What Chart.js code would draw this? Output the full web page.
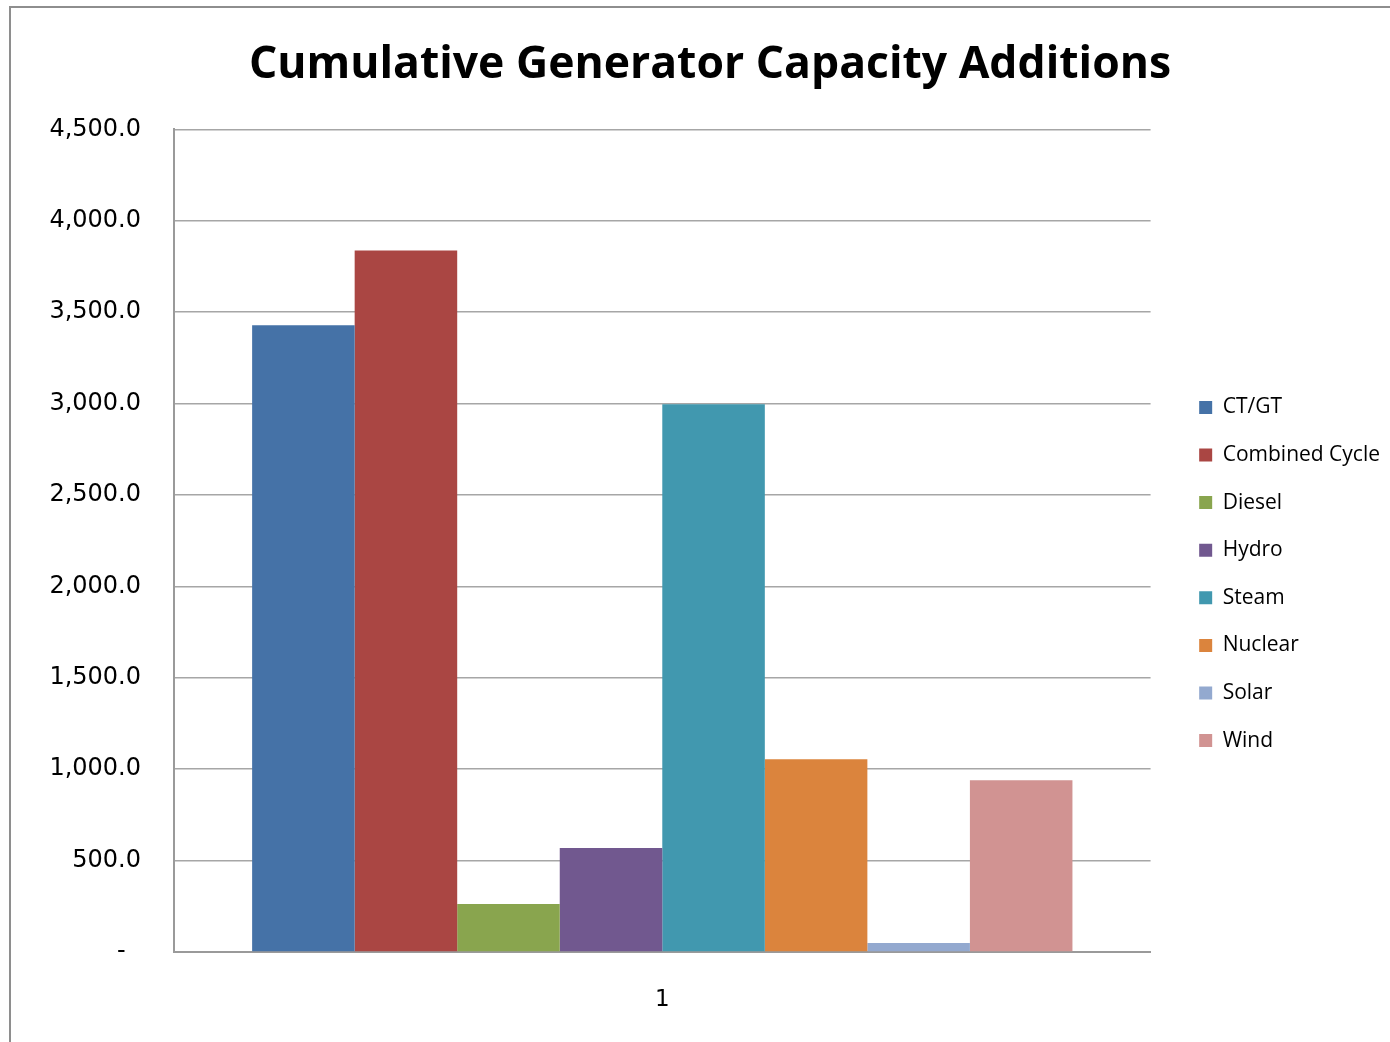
<!DOCTYPE html>
<html>
<head>
<meta charset="utf-8">
<script src="https://cdn.jsdelivr.net/npm/chart.js@4.4.1/dist/chart.umd.min.js"></script>
<style>
  html, body { margin: 0; padding: 0; background: #fff; }
  #frame {
    position: absolute; left: 9px; top: 6px; width: 1400px; height: 1040px;
    border: 2px solid #8e8e8e; box-sizing: border-box;
  }
  #chart { position: absolute; left: 0; top: 0; }
</style>
</head>
<body>
<div id="frame"></div>
<canvas id="chart" width="1390" height="1042"></canvas>
<script>
// --- DATA ---
const categories = ['1'];
const seriesNames = ['CT/GT', 'Combined Cycle', 'Diesel', 'Hydro', 'Steam', 'Nuclear', 'Solar', 'Wind'];
const seriesValues = [3428, 3838, 262, 569, 2996, 1055, 49, 940];
const seriesColors = ['#4572A7', '#AA4643', '#89A54E', '#71588F', '#4198AF', '#DB843D', '#93A9CF', '#D19392'];
const yTicks = [0, 500, 1000, 1500, 2000, 2500, 3000, 3500, 4000, 4500];

const datasets = seriesNames.map((name, i) => ({
    label: name,
    data: [seriesValues[i]],
    backgroundColor: seriesColors[i],
    borderWidth: 0
}));

// Excel accounting style: zero shown as a dash, one decimal otherwise
function fmtTick(v) {
    if (v === 0) return '-  ';
    return v.toLocaleString('en-US', { minimumFractionDigits: 1, maximumFractionDigits: 1 });
}

new Chart(document.getElementById('chart'), {
    type: 'bar',
    data: { labels: categories, datasets: datasets },
    options: {
        responsive: false,
        animation: false,
        devicePixelRatio: 1,
        layout: { padding: { left: 30, right: 0, top: 0, bottom: 0 } },
        categoryPercentage: 0.84,
        barPercentage: 1.0,
        scales: {
            x: {
                grid: { display: false, drawTicks: false },
                border: { display: true, color: '#9a9a9a', width: 2 },
                ticks: { color: '#000', font: { family: 'DejaVu Sans', size: 23 }, padding: 34 },
                afterFit: (s) => { s.height = 90; }
            },
            y: {
                min: 0,
                max: 4500,
                afterBuildTicks: (scale) => { scale.ticks = yTicks.map(v => ({ value: v })); },
                grid: { color: '#a6a6a6', lineWidth: 1.5, drawTicks: false },
                border: { display: true, color: '#9a9a9a', width: 2 },
                ticks: {
                    color: '#000',
                    font: { family: 'DejaVu Sans', size: 24 },
                    padding: 33,
                    callback: (v) => fmtTick(v)
                },
                afterFit: (s) => { s.width = 144; }
            },
            spacer: {
                position: 'right',
                grid: { display: false, drawTicks: false },
                border: { display: false },
                ticks: { display: false },
                afterFit: (s) => { s.width = 22; }
            }
        },
        plugins: {
            title: {
                display: true,
                text: 'Cumulative Generator Capacity Additions',
                color: '#000',
                font: { family: 'Open Sans', size: 44.5, weight: 'bold' },
                padding: { top: 39, bottom: 37 }
            },
            legend: {
                position: 'right',
                title: { display: true, text: ' ', font: { size: 10 }, padding: { top: 0, bottom: 94 } },
                labels: {
                    color: '#000',
                    font: { family: 'Open Sans', size: 21 },
                    boxWidth: 13,
                    boxHeight: 13,
                    padding: 26.6
                }
            },
            tooltip: { enabled: false }
        }
    }
});
</script>
</body>
</html>
